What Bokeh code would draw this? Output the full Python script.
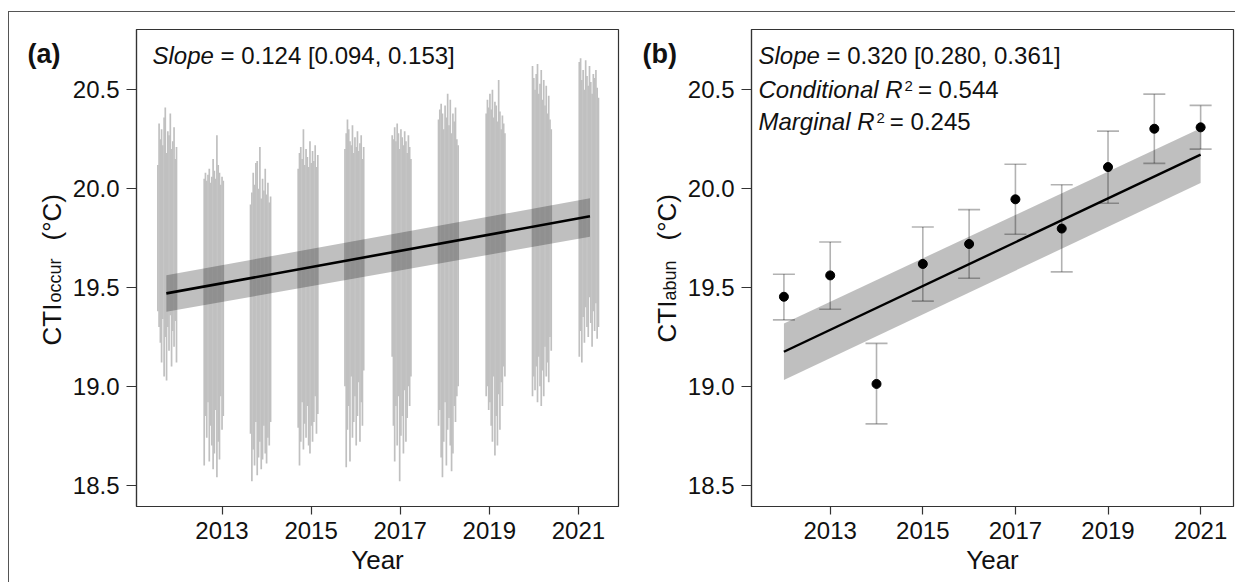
from math import pi
from bokeh.plotting import figure
from bokeh.models import (ColumnDataSource, Label, Whisker, TeeHead, FixedTicker,
                          Range1d, NumeralTickFormatter)
from bokeh.core.properties import value
from bokeh.layouts import row
from bokeh.embed import file_html
from bokeh.resources import INLINE

# ---------------- data: panel (a) CTI occurrence per sample (low / high) -------------
date_2011 = [2011.560, 2011.587, 2011.616, 2011.643, 2011.671, 2011.700, 2011.726, 2011.755,
             2011.783, 2011.810, 2011.839, 2011.867, 2011.894, 2011.923, 2011.951, 2011.978]
high_2011 = [20.12, 20.33, 20.25, 20.30, 20.22, 20.36, 20.41, 20.18, 20.29, 20.27, 20.38, 20.20, 20.24, 20.31, 20.15, 20.21]
low_2011 = [19.38, 19.30, 19.22, 19.12, 19.34, 19.05, 19.25, 19.03, 19.30, 19.18, 19.36, 19.10, 19.28, 19.20, 19.33, 19.12]

date_2012 = [2012.600, 2012.628, 2012.657, 2012.685, 2012.714, 2012.742, 2012.771, 2012.800,
             2012.828, 2012.857, 2012.885, 2012.914, 2012.943, 2012.971, 2013.000, 2013.028]
high_2012 = [20.05, 20.08, 20.04, 20.07, 20.10, 20.03, 20.06, 20.15, 20.09, 20.05, 20.27, 20.12, 20.08, 20.02, 20.06, 20.04]
low_2012 = [18.60, 18.85, 18.74, 18.92, 18.62, 18.80, 18.70, 18.58, 18.66, 18.88, 18.54, 18.72, 18.63, 18.95, 18.78, 18.85]

date_2013 = [2013.640, 2013.670, 2013.700, 2013.730, 2013.760, 2013.790, 2013.820, 2013.850,
             2013.880, 2013.910, 2013.940, 2013.970, 2014.000, 2014.030, 2014.060, 2014.090]
high_2013 = [19.92, 19.98, 20.08, 20.02, 20.13, 20.14, 20.00, 20.21, 19.95, 20.05, 19.99, 20.10, 19.97, 20.03, 19.93, 19.96]
low_2013 = [18.76, 18.52, 18.68, 18.60, 18.82, 18.55, 18.64, 18.72, 18.58, 18.63, 18.80, 18.66, 18.61, 18.74, 18.70, 18.82]

date_2014 = [2014.710, 2014.739, 2014.768, 2014.798, 2014.827, 2014.856, 2014.886, 2014.915,
             2014.944, 2014.974, 2015.003, 2015.032, 2015.062, 2015.091, 2015.120, 2015.150]
high_2014 = [20.10, 20.18, 20.21, 20.15, 20.30, 20.12, 20.20, 20.16, 20.11, 20.24, 20.13, 20.19, 20.14, 20.22, 20.11, 20.17]
low_2014 = [18.79, 18.60, 18.72, 18.92, 18.68, 18.81, 18.74, 18.90, 18.70, 18.66, 18.80, 18.72, 18.82, 18.95, 18.76, 18.86]

date_2015 = [2015.760, 2015.788, 2015.816, 2015.844, 2015.872, 2015.900, 2015.928, 2015.956,
             2015.984, 2016.012, 2016.040, 2016.068, 2016.096, 2016.124, 2016.152, 2016.180]
high_2015 = [20.20, 20.28, 20.35, 20.30, 20.24, 20.22, 20.32, 20.18, 20.26, 20.21, 20.29, 20.19, 20.23, 20.27, 20.15, 20.21]
low_2015 = [19.00, 18.59, 18.78, 18.90, 18.62, 19.05, 18.74, 18.82, 18.95, 18.70, 18.85, 19.02, 18.72, 18.92, 18.80, 19.08]

date_2016 = [2016.820, 2016.848, 2016.876, 2016.904, 2016.932, 2016.960, 2016.988, 2017.016,
             2017.044, 2017.072, 2017.100, 2017.128, 2017.156, 2017.184, 2017.212, 2017.240]
high_2016 = [20.27, 20.25, 20.31, 20.24, 20.33, 20.28, 20.20, 20.30, 20.26, 20.22, 20.29, 20.24, 20.18, 20.27, 20.21, 20.15]
low_2016 = [19.15, 18.80, 18.62, 18.90, 18.70, 18.95, 18.52, 18.75, 18.85, 18.66, 18.98, 18.72, 18.84, 19.00, 18.90, 19.05]

date_2017 = [2017.860, 2017.889, 2017.919, 2017.948, 2017.977, 2018.007, 2018.036, 2018.065,
             2018.095, 2018.124, 2018.153, 2018.183, 2018.212, 2018.241, 2018.271, 2018.300]
high_2017 = [20.35, 20.40, 20.43, 20.38, 20.30, 20.42, 20.36, 20.48, 20.32, 20.45, 20.28, 20.38, 20.34, 20.41, 20.25, 20.22]
low_2017 = [18.80, 18.88, 18.64, 18.54, 18.72, 18.92, 18.60, 18.78, 18.84, 18.70, 18.57, 18.66, 18.90, 18.82, 18.95, 19.00]

date_2018 = [2018.930, 2018.958, 2018.986, 2019.014, 2019.042, 2019.070, 2019.098, 2019.126,
             2019.154, 2019.182, 2019.210, 2019.238, 2019.266, 2019.294, 2019.322, 2019.350]
high_2018 = [20.38, 20.45, 20.41, 20.48, 20.40, 20.50, 20.36, 20.44, 20.42, 20.34, 20.55, 20.39, 20.30, 20.37, 20.33, 20.28]
low_2018 = [18.95, 19.00, 18.88, 18.92, 18.80, 18.72, 19.05, 18.65, 18.85, 18.70, 18.96, 18.78, 19.02, 18.90, 19.10, 19.05]

date_2019 = [2019.970, 2019.998, 2020.026, 2020.054, 2020.082, 2020.110, 2020.138, 2020.166,
             2020.194, 2020.222, 2020.250, 2020.278, 2020.306, 2020.334, 2020.362, 2020.390]
high_2019 = [20.62, 20.56, 20.50, 20.58, 20.63, 20.48, 20.53, 20.60, 20.45, 20.55, 20.42, 20.52, 20.38, 20.47, 20.35, 20.30]
low_2019 = [18.95, 19.05, 18.98, 19.10, 18.92, 19.15, 19.00, 18.90, 19.08, 18.95, 19.20, 19.05, 19.12, 19.02, 19.25, 19.18]

date_2020 = [2021.020, 2021.049, 2021.077, 2021.106, 2021.135, 2021.163, 2021.192, 2021.221,
             2021.249, 2021.278, 2021.307, 2021.335, 2021.364, 2021.393, 2021.421, 2021.450]
high_2020 = [20.64, 20.66, 20.55, 20.60, 20.50, 20.65, 20.57, 20.52, 20.62, 20.54, 20.48, 20.58, 20.56, 20.60, 20.51, 20.46]
low_2020 = [19.15, 19.28, 19.12, 19.35, 19.22, 19.40, 19.30, 19.25, 19.45, 19.32, 19.20, 19.38, 19.28, 19.42, 19.24, 19.30]

# fitted trend (a)
fit_a_x = [2011.75, 2021.26]
fit_a_y = [19.47, 19.86]
fit_a_lo = [19.377, 19.756]
fit_a_hi = [19.562, 19.951]

# ---------------- data: panel (b) yearly CTI abundance ---------------------
years_b = [2012, 2013, 2014, 2015, 2016, 2017, 2018, 2019, 2020, 2021]
cti_abun = [19.453, 19.561, 19.012, 19.619, 19.720, 19.946, 19.798, 20.109, 20.303, 20.310]
cti_abun_lo = [19.336, 19.390, 18.810, 19.431, 19.547, 19.769, 19.579, 19.926, 20.128, 20.200]
cti_abun_hi = [19.567, 19.730, 19.217, 19.806, 19.894, 20.123, 20.020, 20.291, 20.478, 20.421]

fit_b_x = [2012, 2021]
fit_b_y = [19.175, 20.172]
fit_b_lo = [19.032, 20.028]
fit_b_hi = [19.318, 20.306]

x_ticks = [2013, 2015, 2017, 2019, 2021]
y_ticks = [18.5, 19.0, 19.5, 20.0, 20.5]

FONT = "Liberation Sans"
W = {'S': .667, 'l': .222, 'o': .556, 'p': .556, 'e': .556, 'C': .722, 'n': .556,
     'd': .556, 'i': .222, 't': .278, 'a': .556, ' ': .278, 'R': .722, 'M': .833,
     'r': .333, 'g': .556, 'T': .611, 'I': .278, 'c': .5, 'u': .556, 'b': .556,
     '(': .333, ')': .333, '°': .4}


def tw(s, size):
    return sum(W.get(ch, .556) for ch in s) * size


FRAME_W, FRAME_H = 482, 477
TOTAL_H = 570           # canvas height of every element of the row
TOP = 17                # space above the frames
BOTTOM = TOTAL_H - TOP - FRAME_H


def make_fig(xr, left, right):
    p = figure(frame_width=FRAME_W, frame_height=FRAME_H, output_backend="svg",
               toolbar_location=None, x_range=Range1d(*xr), y_range=Range1d(18.392, 20.805),
               min_border_left=left, min_border_right=right, min_border_top=TOP,
               min_border_bottom=BOTTOM, title=None)
    p.grid.visible = False
    p.outline_line_color = "#333333"
    p.outline_line_width = 1.2
    for ax in (p.xaxis[0], p.yaxis[0]):
        ax.axis_line_color = "#333333"
        ax.axis_line_width = 1.2
        ax.major_tick_line_color = "#333333"
        ax.major_tick_line_width = 1.2
        ax.minor_tick_line_color = None
        ax.major_tick_in = 0
        ax.major_label_text_font = FONT
        ax.major_label_text_font_size = "24px"
        ax.major_label_text_color = "#111111"
    p.xaxis.ticker = FixedTicker(ticks=x_ticks)
    p.yaxis.ticker = FixedTicker(ticks=y_ticks)
    p.xaxis.formatter = NumeralTickFormatter(format="0")
    p.yaxis.formatter = NumeralTickFormatter(format="0.0")
    p.xaxis.major_tick_out = 8
    p.xaxis.major_label_standoff = 7
    p.yaxis.major_tick_out = 10
    p.yaxis.major_label_standoff = 7
    p.xaxis.axis_label = "Year"
    p.xaxis.axis_label_text_font = FONT
    p.xaxis.axis_label_text_font_size = "26px"
    p.xaxis.axis_label_text_font_style = "normal"
    p.xaxis.axis_label_text_color = "#111111"
    p.xaxis.axis_label_standoff = 3
    return p


def lab(p, x, y, text, size, style="normal", **kw):
    p.add_layout(Label(x=x, y=y, x_units="screen", y_units="screen", text=text,
                       text_font=FONT, text_font_size=f"{size}px", text_font_style=style,
                       text_color="#111111", **kw))


def side_fig(width, tag, sub, x_tag, x_lab, y_cti, y_sub, y_unit):
    """Narrow canvas holding the panel tag and the rotated y-axis title.
    Its frame is aligned with the panel frames; y is measured downward from the frame top."""
    s = figure(frame_width=width, frame_height=FRAME_H, output_backend="svg",
               toolbar_location=None, x_range=Range1d(0, width), y_range=Range1d(FRAME_H, 0),
               x_axis_type=None, y_axis_type=None, min_border_left=0, min_border_right=0,
               min_border_top=TOP, min_border_bottom=BOTTOM, title=None)
    s.grid.visible = False
    s.outline_line_color = None
    kw = dict(text_font=value(FONT), text_color="#111111", text_baseline="alphabetic",
              text_align="left")
    s.text(x=[x_tag], y=[24], text=["(%s)" % tag], text_font_size=value("27px"),
           text_font_style="bold", **kw)
    s.text(x=[x_lab], y=[y_cti], text=["CTI"], angle=pi / 2, text_font_size=value("26px"), **kw)
    s.text(x=[x_lab + 3], y=[y_sub], text=[sub], angle=pi / 2, text_font_size=value("18px"), **kw)
    s.text(x=[x_lab], y=[y_unit], text=["(°C)"], angle=pi / 2, text_font_size=value("26px"), **kw)
    return s


# ---------------- panel (a) ----------------
pa = make_fig((2011.08, 2021.90), 67, 18)
occ_x, occ_lo, occ_hi = [], [], []
for d, lo, hi in [(date_2011, low_2011, high_2011), (date_2012, low_2012, high_2012),
                  (date_2013, low_2013, high_2013), (date_2014, low_2014, high_2014),
                  (date_2015, low_2015, high_2015), (date_2016, low_2016, high_2016),
                  (date_2017, low_2017, high_2017), (date_2018, low_2018, high_2018),
                  (date_2019, low_2019, high_2019), (date_2020, low_2020, high_2020)]:
    occ_x += d
    occ_lo += lo
    occ_hi += hi
src_a = ColumnDataSource(dict(x=occ_x, lo=occ_lo, hi=occ_hi))
pa.segment(x0="x", y0="lo", x1="x", y1="hi", source=src_a, line_color="#c0c0c0", line_width=1.7)
pa.varea(x=fit_a_x, y1=fit_a_lo, y2=fit_a_hi, fill_color="black", fill_alpha=0.25)
pa.line(x=fit_a_x, y=fit_a_y, line_color="black", line_width=2.6)

s_x = 16
lab(pa, s_x, 438, "Slope", 24, "italic")
lab(pa, s_x + tw("Slope ", 24), 438, "= 0.124 [0.094, 0.153]", 24)

# ---------------- panel (b) ----------------
pb = make_fig((2011.30, 2021.71), 67, 2)
src_b = ColumnDataSource(dict(x=years_b, y=cti_abun, lo=cti_abun_lo, hi=cti_abun_hi))
head_kw = dict(size=22, line_color="black", line_alpha=0.3, line_width=1.6)
pb.add_layout(Whisker(source=src_b, base="x", upper="hi", lower="lo", dimension="height",
                      line_color="black", line_alpha=0.3, line_width=1.6, level="underlay",
                      upper_head=TeeHead(**head_kw), lower_head=TeeHead(**head_kw)))
pb.varea(x=fit_b_x, y1=fit_b_lo, y2=fit_b_hi, fill_color="black", fill_alpha=0.25)
pb.line(x=fit_b_x, y=fit_b_y, line_color="black", line_width=2.4)
pb.scatter(x="x", y="y", source=src_b, size=9, color="black")

bx = 7
lab(pb, bx, 438, "Slope", 24, "italic")
lab(pb, bx + tw("Slope ", 24), 438, "= 0.320 [0.280, 0.361]", 24)
for txt, val, base in [("Conditional R", "= 0.544", 404), ("Marginal R", "= 0.245", 372)]:
    w = tw(txt, 24)
    lab(pb, bx, base, txt, 24, "italic")
    lab(pb, bx + w + 2, base + 12, "2", 15)
    lab(pb, bx + w + 2 + tw("2", 15) + 5, base, val, 24)

# side canvases (page y = 29 + y)
sa = side_fig(60, "a", "occur", 18, 42, 316, 273, 211)
sb = side_fig(48, "b", "abun", 6, 30, 313, 271, 211)

layout = row(sa, pa, sb, pb,
             styles={"border-top": "1px solid #555555", "border-left": "1px solid #555555",
                     "margin-left": "8px", "margin-top": "11px"})
open("out.html", "w").write(file_html(layout, INLINE))
